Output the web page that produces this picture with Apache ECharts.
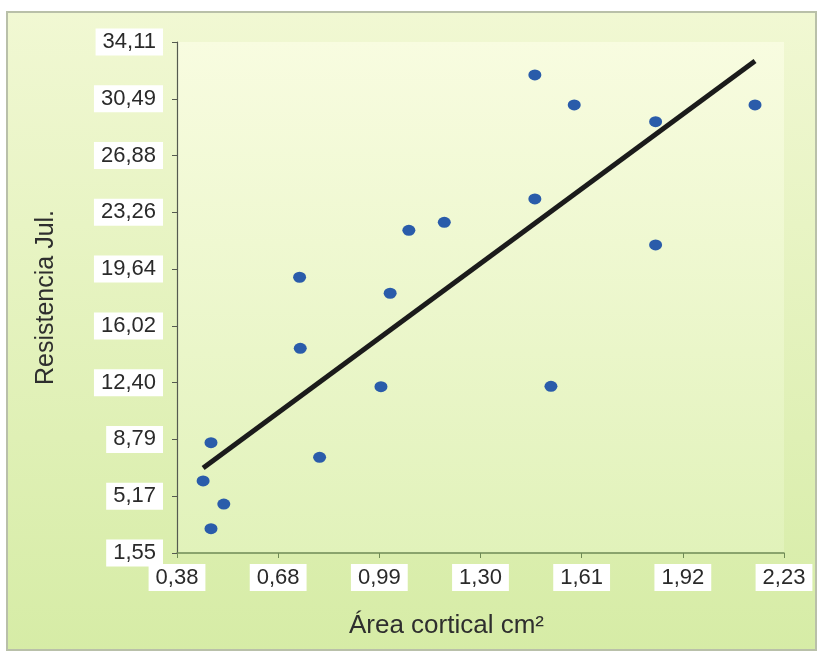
<!DOCTYPE html>
<html>
<head>
<meta charset="utf-8">
<script src="https://cdn.jsdelivr.net/npm/echarts@6/dist/echarts.min.js"></script>
<style>html,body{margin:0;padding:0;background:#fff}#c{width:822px;height:659px}</style>
</head>
<body>
<div id="c"></div>
<script>
// Data
const areaCortical = [0.456, 0.480, 0.480, 0.519, 0.750, 0.752, 0.811, 0.998, 1.026, 1.083, 1.191, 1.467, 1.467, 1.516, 1.587, 1.835, 1.835, 2.138];
const resistencia  = [6.14, 8.58, 3.10, 4.67, 19.12, 14.59, 7.65, 12.15, 18.10, 22.11, 22.62, 32.01, 24.11, 12.17, 30.10, 29.03, 21.18, 30.10];
const trendX = [0.456, 2.138];
const trendY = [6.97, 32.90];
const xTickValues = [0.3764, 0.6847, 0.9930, 1.3013, 1.6096, 1.9180, 2.2263];
const xTickLabels = ['0,38', '0,68', '0,99', '1,30', '1,61', '1,92', '2,23'];
const yTickValues = [1.55, 5.168, 8.786, 12.403, 16.021, 19.639, 23.257, 26.874, 30.492, 34.11];
const yTickLabels = ['1,55', '5,17', '8,79', '12,40', '16,02', '19,64', '23,26', '26,88', '30,49', '34,11'];
const xName = 'Área cortical cm²';
const yName = 'Resistencia Jul.';

function labelFor(values, labels, v) {
  let best = 0;
  for (let i = 1; i < values.length; i++) {
    if (Math.abs(values[i] - v) < Math.abs(values[best] - v)) best = i;
  }
  return labels[best];
}

const chart = echarts.init(document.getElementById('c'), null, {renderer: 'canvas'});
const font = 'Liberation Sans, Arial, sans-serif';
const lbl = {
  fontFamily: font, fontSize: 22, color: '#2a2a2a',
  backgroundColor: '#ffffff', padding: [3, 7, 2, 7]
};
chart.setOption({
  backgroundColor: '#ffffff',
  animation: false,
  graphic: [{
    type: 'rect', z: -100, silent: true,
    shape: {x: 7, y: 12, width: 809, height: 638},
    style: {
      fill: new echarts.graphic.LinearGradient(0, 0, 0, 1, [
        {offset: 0, color: '#f1f8d3'}, {offset: 1, color: '#d6eca6'}
      ]),
      stroke: '#b9c0a9', lineWidth: 2
    }
  }],
  grid: {
    left: 177, right: 38, top: 42, bottom: 106,
    show: true, borderWidth: 0,
    backgroundColor: new echarts.graphic.LinearGradient(0, 0, 0, 1, [
      {offset: 0, color: '#f8fce0'}, {offset: 1, color: '#e1f2ba'}
    ])
  },
  xAxis: {
    type: 'value', min: xTickValues[0], max: xTickValues[xTickValues.length - 1],
    name: xName, nameLocation: 'middle', nameGap: 60,
    nameTextStyle: {fontFamily: font, fontSize: 26, color: '#2e2e2e', padding: [0, 68, 0, 0]},
    axisLine: {show: true, onZero: false, lineStyle: {color: '#6f8a55', width: 1.5}},
    axisTick: {show: true, customValues: xTickValues, length: 5, lineStyle: {color: '#6f8a55'}},
    axisLabel: Object.assign({}, lbl, {
      customValues: xTickValues, margin: 11,
      formatter: (v) => labelFor(xTickValues, xTickLabels, v)
    }),
    splitLine: {show: false}
  },
  yAxis: {
    type: 'value', min: yTickValues[0], max: yTickValues[yTickValues.length - 1],
    name: yName, nameLocation: 'middle', nameGap: 118,
    nameTextStyle: {fontFamily: font, fontSize: 25, color: '#2e2e2e'},
    axisLine: {show: true, onZero: false, lineStyle: {color: '#555a50', width: 1.2}},
    axisTick: {show: true, customValues: yTickValues, length: 5, lineStyle: {color: '#555a50'}},
    axisLabel: Object.assign({}, lbl, {
      customValues: yTickValues, margin: 14,
      formatter: (v) => labelFor(yTickValues, yTickLabels, v)
    }),
    splitLine: {show: false}
  },
  series: [
    {
      type: 'scatter', symbol: 'circle', symbolSize: [13, 11],
      itemStyle: {color: '#2a5caa', opacity: 1},
      data: areaCortical.map((x, i) => [x, resistencia[i]])
    },
    {
      type: 'line', symbol: 'none', silent: true,
      lineStyle: {color: '#1b1b1b', width: 5},
      data: trendX.map((x, i) => [x, trendY[i]])
    }
  ]
});
</script>
</body>
</html>
